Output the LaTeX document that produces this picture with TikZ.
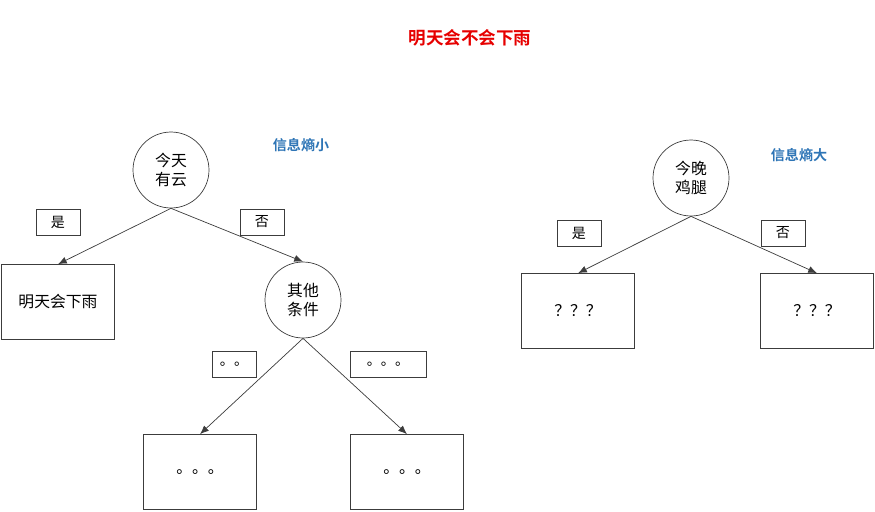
\documentclass[tikz,border=0pt]{standalone}
\usepackage{fontspec}
\setmainfont{Noto Sans CJK SC}[BoldFont={Noto Sans CJK SC Bold}]
\usetikzlibrary{arrows.meta}
\definecolor{linegray}{RGB}{60,60,60}
\definecolor{titlered}{RGB}{230,0,0}
\definecolor{noteblue}{RGB}{46,117,182}
\tikzset{%
	question/.style = {draw=linegray, circle, minimum size=1.52cm, inner sep=0pt, align=center, font=\fontsize{9}{11}\selectfont},
	answer/.style   = {draw=linegray, rectangle, minimum width=2.26cm, minimum height=1.5cm, font=\fontsize{9}{11}\selectfont},
	tag/.style      = {draw=linegray, rectangle, minimum width=0.88cm, minimum height=0.52cm, inner sep=1pt, font=\fontsize{8}{10}\selectfont},
	note/.style     = {text=noteblue, font=\bfseries\fontsize{8}{10}\selectfont},
	arrow/.style    = {draw=linegray, -{Latex[length=5pt,width=4pt]}},
}
\begin{document}
\begin{tikzpicture}[x=0.02cm,y=-0.02cm]
	\useasboundingbox (0,0) rectangle (875,511);
	\node[text=titlered, font=\bfseries\fontsize{10}{12}\selectfont] (title) at (470,38) {明天会不会下雨};
	% left tree
	\node[question] (cloud) at (171,170) {今天\\有云};
	\node[note] (small) at (301,145) {信息熵小};
	\node[tag] (yesL) at (58,222) {是};
	\node[tag] (noL) at (262,222) {否};
	\node[answer] (rain) at (58,302) {明天会下雨};
	\node[question] (other) at (303,300) {其他\\条件};
	\node[tag] (dotsA) at (234,364) {。。};
	\node[tag, minimum width=1.52cm] (dotsB) at (388,364) {。。。};
	\node[answer] (leafA) at (200,472) {。。。};
	\node[answer] (leafB) at (407,472) {。。。};
	% right tree
	\node[question] (drum) at (691,178) {今晚\\鸡腿};
	\node[note] (big) at (799,155) {信息熵大};
	\node[tag] (yesR) at (579,233) {是};
	\node[tag] (noR) at (783,233) {否};
	\node[answer] (qA) at (578,311) {？？？};
	\node[answer] (qB) at (817,311) {？？？};

	\draw[arrow] (cloud.south) -- (rain.north);
	\draw[arrow] (cloud.south) -- (other.north);
	\draw[arrow] (other.south) -- (leafA.north);
	\draw[arrow] (other.south) -- (leafB.north);
	\draw[arrow] (drum.south) -- (qA.north);
	\draw[arrow] (drum.south) -- (qB.north);
\end{tikzpicture}
\end{document}
